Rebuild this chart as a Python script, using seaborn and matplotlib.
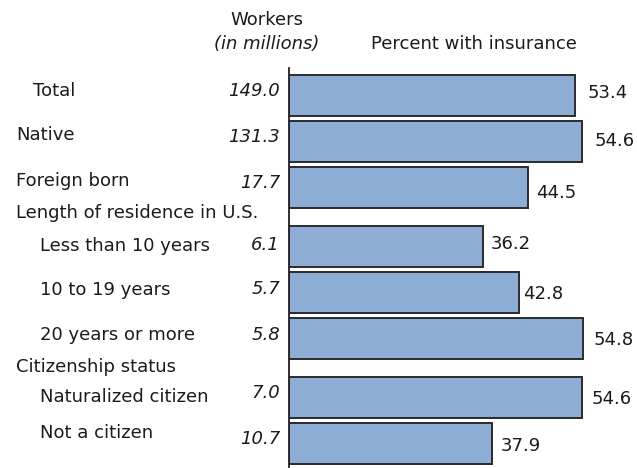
import matplotlib
matplotlib.use("Agg")
import matplotlib.pyplot as plt
import matplotlib.transforms as mtransforms
import numpy as np
import pandas as pd
import seaborn as sns

# Data
categories = ["Total", "Native", "Foreign born", "Less than 10 years",
              "10 to 19 years", "20 years or more", "Naturalized citizen",
              "Not a citizen"]
indent = [1, 0, 0, 2, 2, 2, 2, 2]
workers = ["149.0", "131.3", "17.7", "6.1", "5.7", "5.8", "7.0", "10.7"]
pct_insured = [53.4, 54.6, 44.5, 36.2, 42.8, 54.8, 54.6, 37.9]
group_headers = ["Length of residence in U.S.", "Citizenship status"]

# Layout: row positions, with extra room before each group header
gap = 0.28
rows = np.array([0, 1, 2, 3 + gap, 4 + gap, 5 + gap, 6 + 2 * gap, 7 + 2 * gap])
header_rows = [2.554, 5.90]
label_dy = [-4, -6, -7, 0, -2, -3, 0, -10]     # pixel nudges (negative = up)
worker_dy = [-4, -4, -4, -1, -3, -3, -4, -4]
pct_dy = [-2, -1, 5, -2, 2, 2, 2, 3]
pct_dx = [12, 13, 8, 8, 5, 11, 10, 8]
indent_px = {0: 16, 1: 33, 2: 40}

sns.set_theme(style="white")
plt.rcParams["font.family"] = ["DejaVu Sans"]
text_color = "#1c1a1b"
fs = 13.0

W, H = 637, 468
fig = plt.figure(figsize=(W / 100, H / 100), dpi=100)
ax_left, ax_right = 288.7, 610.9
ax_top, ax_bottom = 68, 468
ax = fig.add_axes([ax_left / W, 1 - ax_bottom / H,
                   (ax_right - ax_left) / W, (ax_bottom - ax_top) / H])

df = pd.DataFrame({"pct": pct_insured, "row": rows})
sns.barplot(data=df, x="pct", y="row", orient="y", native_scale=True,
            width=0.89, color="#8eadd5", saturation=1, edgecolor="#2b2b2b",
            linewidth=1.4, errorbar=None, ax=ax)

ax.set_xlim(0, 60)
px_per_row = 46.0
top_val = -(95.5 - ax_top) / px_per_row
bot_val = (ax_bottom - 95.5) / px_per_row
ax.set_ylim(bot_val, top_val)
ax.set_xlabel("")
ax.set_ylabel("")
ax.set_xticks([])
ax.set_yticks([])
for side in ["top", "right", "bottom"]:
    ax.spines[side].set_visible(False)
ax.spines["left"].set_color("#231f20")
ax.spines["left"].set_linewidth(1.3)
ax.patch.set_alpha(0)

fig_x = mtransforms.blended_transform_factory(fig.transFigure, ax.transData)

def nudge(dy):
    return mtransforms.offset_copy(fig_x, fig=fig, x=0, y=-dy, units="dots")

def nudge_ax(dx, dy):
    return mtransforms.offset_copy(ax.transData, fig=fig, x=dx, y=-dy, units="dots")

for i, (name, r) in enumerate(zip(categories, rows)):
    fig.text(indent_px[indent[i]] / W, r, name, transform=nudge(label_dy[i]),
             ha="left", va="center", fontsize=fs, color=text_color)
    fig.text(280 / W, r, workers[i], transform=nudge(worker_dy[i]),
             ha="right", va="center", fontsize=fs, style="italic",
             color=text_color)
    ax.text(pct_insured[i], r, f"{pct_insured[i]:.1f}",
            transform=nudge_ax(pct_dx[i], pct_dy[i]), ha="left", va="center",
            fontsize=fs, color=text_color, clip_on=False)

for name, r in zip(group_headers, header_rows):
    fig.text(16 / W, r, name, transform=fig_x, ha="left", va="center",
             fontsize=fs, color=text_color)

fig.text(267 / W, 1 - 20 / H, "Workers", ha="center", va="center",
         fontsize=fs, color=text_color)
fig.text(267 / W, 1 - 44 / H, "(in millions)", ha="center", va="center",
         fontsize=fs, style="italic", color=text_color)
fig.text(474 / W, 1 - 44 / H, "Percent with insurance", ha="center",
         va="center", fontsize=fs, color=text_color)

fig.savefig("out.png", dpi=100, facecolor="white")
